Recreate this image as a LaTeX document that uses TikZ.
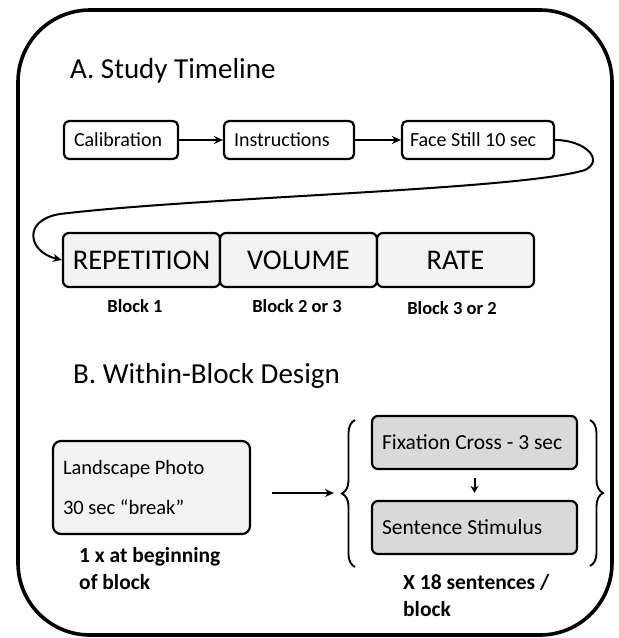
\documentclass[tikz,border=0pt]{standalone}
\usepackage{fontspec}
\setmainfont{Carlito}
\usetikzlibrary{arrows.meta,decorations.pathreplacing,calc}
\definecolor{lightfill}{HTML}{F2F2F2}
\definecolor{midfill}{HTML}{D9D9D9}
\begin{document}
\begin{tikzpicture}[x=1pt,y=-1pt,
  stepbox/.style={draw=black, line width=2.2pt, rounded corners=5pt, fill=white,
    inner xsep=10pt, inner ysep=0pt, minimum height=38pt, align=flush left,
    font=\fontsize{20}{24}\selectfont},
  blockbox/.style={draw=black, line width=2.2pt, rounded corners=6pt, fill=lightfill,
    inner sep=0pt, minimum width=157pt, minimum height=54pt,
    font=\fontsize{28.5}{32}\selectfont},
  trialbox/.style={draw=black, line width=2.2pt, rounded corners=6pt, fill=midfill,
    inner xsep=10pt, inner ysep=0pt, minimum height=53pt, text width=185pt, align=flush left,
    font=\fontsize{21.5}{25}\selectfont},
  photobox/.style={draw=black, line width=2.2pt, rounded corners=8pt, fill=lightfill,
    inner xsep=10pt, inner ysep=0pt, minimum height=93pt, text width=177pt, align=flush left,
    font=\fontsize{20.5}{24}\selectfont},
  title/.style={anchor=base west, inner sep=0pt, font=\fontsize{29}{34}\selectfont},
  blocklabel/.style={anchor=base, inner sep=0pt, font=\bfseries\fontsize{18.5}{22}\selectfont},
  note/.style={anchor=north west, inner sep=0pt, align=flush left, font=\bfseries\fontsize{21.5}{27}\selectfont},
  arr/.style={line width=2pt, -{Stealth[length=9pt,width=8pt]}},
  smallarr/.style={line width=2pt, -{Stealth[length=7pt,width=8pt]}},
  bracestyle/.style={line width=1.9pt, decorate, decoration={brace, amplitude=13pt}}
]
\useasboundingbox (0,0) rectangle (619,638);
\draw[line width=3.6pt, rounded corners=72pt] (18,10) rectangle (612,635);

% A. Study timeline
\node[title] (ta) at (70,78) {A. Study Timeline};
\node[stepbox, text width=94pt] (cal) at (121,140) {Calibration};
\node[stepbox, text width=110pt] (ins) at (289,140) {Instructions};
\node[stepbox, inner xsep=8pt, text width=136pt] (face) at (478,140) {Face Still 10 sec};
\draw[arr] (cal) -- (ins);
\draw[arr] (ins) -- (face);

\node[blockbox] (rep) at (141.5,260) {REPETITION};
\node[blockbox] (vol) at (298.5,260) {VOLUME};
\node[blockbox] (rate) at (455.5,260) {RATE};
\draw[arr] (face.east) .. controls (585,140) and (605,160) .. (585,170)
  .. controls (520,190) and (200,197) .. (60,214)
  .. controls (22,220) and (28,252) .. (rep.west);

\node[blocklabel] (b1) at (135,312) {Block 1};
\node[blocklabel] (b2) at (297,312) {Block 2 or 3};
\node[blocklabel] (b3) at (452,314) {Block 3 or 2};

% B. Within-block design
\node[title] (tb) at (73,383) {B. Within-Block Design};
\node[photobox] (land) at (151.5,487.5) {Landscape Photo\\[16pt]30 sec “break”};
\node[note] (n1) at (79,547) {1 x at beginning\\of block};

\coordinate (a1) at (272,493);
\coordinate (a2) at (334,493);
\draw[arr] (a1) -- (a2);

\node[trialbox] (fix) at (474.5,442.5) {Fixation Cross - 3 sec};
\node[trialbox] (sent) at (474.5,527.5) {Sentence Stimulus};
\draw[smallarr, shorten <=8pt, shorten >=7pt] (fix.south) -- (sent.north);

\coordinate (lb1) at (355,567);
\coordinate (lb2) at (355,420);
\coordinate (rb1) at (590,420);
\coordinate (rb2) at (590,566);
\draw[bracestyle] (lb1) -- (lb2);
\draw[bracestyle] (rb1) -- (rb2);

\node[note] (n2) at (403,574) {X 18 sentences /\\block};
\end{tikzpicture}
\end{document}
